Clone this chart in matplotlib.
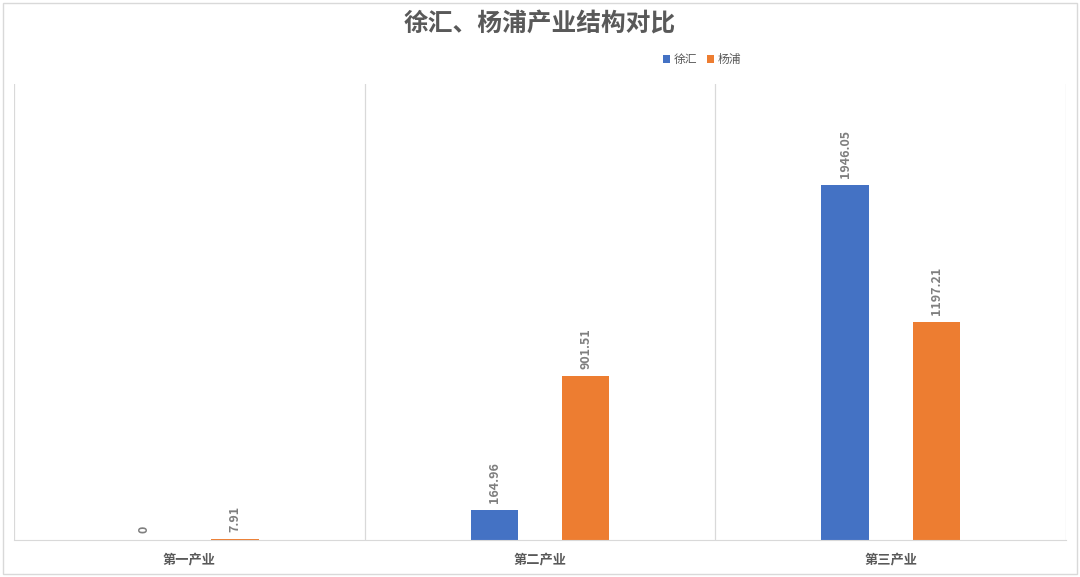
import matplotlib.pyplot as plt
import numpy as np
from matplotlib.patches import Rectangle

plt.rcParams['font.family'] = ['Noto Sans CJK SC', 'DejaVu Sans']

# data
categories = ['第一产业', '第二产业', '第三产业']
xuhui = [0, 164.96, 1946.05]
yangpu = [7.91, 901.51, 1197.21]
series_names = ['徐汇', '杨浦']

BLUE = '#4472c4'
ORANGE = '#ed7d31'
TEXT = '#595959'
LABEL = '#7f7f7f'
GRID = '#d9d9d9'

fig = plt.figure(figsize=(10.8, 5.77), dpi=100)
ax = fig.add_axes([0.013, 0.064, 0.974, 0.79])

x = np.arange(len(categories))
w = 0.135
off = 0.13
b1 = ax.bar(x - off, xuhui, w, color=BLUE, label=series_names[0])
b2 = ax.bar(x + off, yangpu, w, color=ORANGE, label=series_names[1])

for bars, vals in [(b1, xuhui), (b2, yangpu)]:
    for rect, v in zip(bars, vals):
        lab = f'{v:g}'
        ax.annotate(lab, (rect.get_x() + rect.get_width() / 2, rect.get_height()),
                    xytext=(0, 5), textcoords='offset points', rotation=90,
                    ha='center', va='bottom', fontsize=9, fontweight='bold', color=LABEL)

ax.set_xlim(-0.5, 2.5)
ax.set_ylim(0, 2500)
ax.set_yticks([])
ax.set_xticks(x)
ax.set_xticklabels(categories, fontsize=9.5, fontweight='bold', color=TEXT)
ax.tick_params(axis='x', length=0, pad=9)

# category separators
for sx in [-0.5, 0.5, 1.5, 2.5]:
    ax.axvline(sx, color=GRID, lw=0.9, zorder=0)

for s in ['top', 'left', 'right']:
    ax.spines[s].set_visible(False)
ax.spines['bottom'].set_color(GRID)

fig.text(0.5, 0.957, '徐汇、杨浦产业结构对比', ha='center', va='center',
         fontsize=17.8, fontweight='bold', color=TEXT)

leg = fig.legend(loc='center', bbox_to_anchor=(0.65, 0.897), ncol=2, frameon=False,
                 fontsize=8.5, handlelength=0.6, handleheight=0.6, handletextpad=0.3,
                 columnspacing=0.8)
for t in leg.get_texts():
    t.set_color(TEXT)

# outer chart border
fig.patches.append(Rectangle((0.003, 0.005), 0.994, 0.99, transform=fig.transFigure,
                             fill=False, edgecolor=GRID, lw=1))

fig.savefig('out.png', dpi=100)
